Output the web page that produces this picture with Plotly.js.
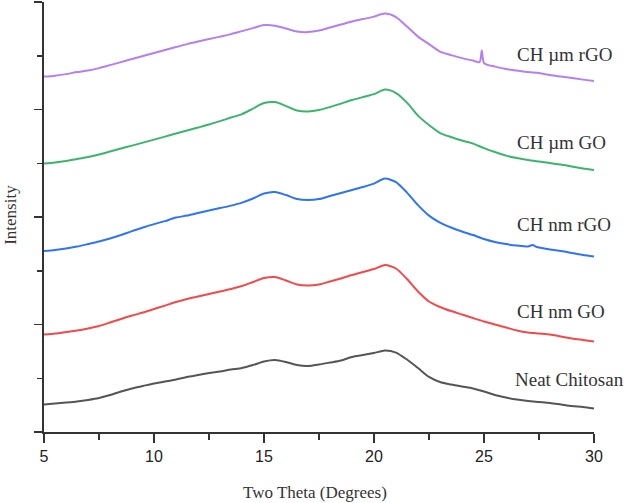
<!DOCTYPE html>
<html>
<head>
<meta charset="utf-8">
<script src="https://cdn.plot.ly/plotly-3.0.1.min.js"></script>
<style>
  html, body { margin: 0; padding: 0; background: #ffffff; }
  #chart { width: 625px; height: 503px; }
</style>
</head>
<body>
<div id="chart"></div>
<script>
// XRD patterns of chitosan films, offset vertically (arbitrary intensity units)
const twoTheta = [5.0, 5.5, 6.0, 6.5, 7.0, 7.5, 8.0, 8.5, 9.0, 9.5,
  10.0, 10.5, 11.0, 11.5, 12.0, 12.5, 13.0, 13.5, 14.0, 14.5,
  15.0, 15.5, 16.0, 16.5, 17.0, 17.5, 18.0, 18.5, 19.0, 19.5,
  20.0, 20.5, 21.0, 21.5, 22.0, 22.5, 23.0, 23.5, 24.0, 24.5,
  25.0, 25.5, 26.0, 26.5, 27.0, 27.5, 28.0, 28.5, 29.0, 29.5, 30.0];

const neatChitosan = [256, 265, 274, 284, 298, 316, 344, 377, 405, 428,
  451, 470, 488, 512, 530, 549, 563, 581, 595, 623,
  656, 670, 651, 623, 614, 628, 646, 665, 698, 716,
  735, 758, 739, 674, 595, 512, 465, 442, 423, 405,
  377, 344, 321, 302, 288, 279, 270, 256, 242, 233, 219];

const chNmGO = [907, 916, 930, 944, 963, 986, 1018, 1051, 1083, 1111,
  1144, 1176, 1209, 1237, 1260, 1283, 1307, 1330, 1358, 1395,
  1432, 1442, 1409, 1372, 1362, 1372, 1400, 1428, 1460, 1488,
  1516, 1553, 1521, 1423, 1307, 1214, 1163, 1125, 1093, 1060,
  1028, 1000, 972, 944, 925, 916, 907, 888, 870, 856, 842];

// nm rGO has a small reflection near 27.2 degrees
const twoThetaNmRGO = [5.0, 5.5, 6.0, 6.5, 7.0, 7.5, 8.0, 8.5, 9.0, 9.5,
  10.0, 10.5, 11.0, 11.5, 12.0, 12.5, 13.0, 13.5, 14.0, 14.5,
  15.0, 15.5, 16.0, 16.5, 17.0, 17.5, 18.0, 18.5, 19.0, 19.5,
  20.0, 20.5, 21.0, 21.5, 22.0, 22.5, 23.0, 23.5, 24.0, 24.5,
  25.0, 25.5, 26.0, 26.5, 27.0, 27.2, 27.4, 27.5, 28.0, 28.5, 29.0, 29.5, 30.0];
const chNmRGO = [1683, 1693, 1707, 1725, 1748, 1772, 1800, 1832, 1869, 1902,
  1934, 1962, 1995, 2013, 2037, 2060, 2083, 2106, 2134, 2172,
  2218, 2232, 2204, 2167, 2158, 2167, 2195, 2223, 2251, 2279,
  2311, 2358, 2325, 2227, 2111, 2013, 1948, 1902, 1865, 1832,
  1795, 1767, 1748, 1734, 1725, 1739, 1721, 1716, 1697, 1683, 1665, 1646, 1632];

const chUmGO = [2497, 2506, 2520, 2539, 2558, 2581, 2609, 2637, 2664, 2692,
  2720, 2748, 2776, 2804, 2832, 2860, 2892, 2925, 2957, 3009,
  3060, 3069, 3032, 2990, 2981, 2995, 3023, 3055, 3088, 3116,
  3143, 3185, 3153, 3064, 2943, 2855, 2781, 2744, 2711, 2683,
  2641, 2604, 2571, 2548, 2530, 2516, 2502, 2488, 2469, 2451, 2437];

// µm rGO shows a sharp graphitic reflection near 24.9 degrees
const twoThetaUmRGO = [5.0, 5.5, 6.0, 6.5, 7.0, 7.5, 8.0, 8.5, 9.0, 9.5,
  10.0, 10.5, 11.0, 11.5, 12.0, 12.5, 13.0, 13.5, 14.0, 14.5,
  15.0, 15.5, 16.0, 16.5, 17.0, 17.5, 18.0, 18.5, 19.0, 19.5,
  20.0, 20.5, 21.0, 21.5, 22.0, 22.5, 23.0, 23.5, 24.0, 24.5,
  24.8, 24.9, 25.0, 25.5, 26.0, 26.5, 27.0, 27.5, 28.0, 28.5, 29.0, 29.5, 30.0];
const chUmRGO = [3306, 3315, 3329, 3348, 3362, 3385, 3413, 3441, 3469, 3497,
  3525, 3553, 3581, 3608, 3632, 3655, 3678, 3701, 3729, 3757,
  3785, 3780, 3753, 3725, 3720, 3734, 3762, 3790, 3818, 3841,
  3864, 3892, 3860, 3771, 3678, 3608, 3539, 3506, 3478, 3455,
  3441, 3548, 3432, 3399, 3376, 3362, 3348, 3339, 3320, 3306, 3292, 3278, 3264];

const seriesNames = ["Neat Chitosan", "CH nm GO", "CH nm rGO", "CH \u00b5m GO", "CH \u00b5m rGO"];
const seriesColors = ["#555555", "#f24a4a", "#2f74f0", "#3cb46e", "#b47ff0"];
const seriesX = [twoTheta, twoTheta, twoThetaNmRGO, twoTheta, twoThetaUmRGO];
const seriesY = [neatChitosan, chNmGO, chNmRGO, chUmGO, chUmRGO];
// label anchors (two theta, intensity) beside each curve's tail
const labelX = [26.3, 26.4, 26.4, 26.4, 26.4];
const labelY = [490, 1120, 1930, 2690, 3510];

const traces = seriesNames.map((name, i) => ({
  type: "scatter",
  mode: "lines",
  name: name,
  x: seriesX[i],
  y: seriesY[i],
  line: { color: seriesColors[i], width: 2, shape: "spline", smoothing: 0.7 },
  hoverinfo: "x+y+name"
}));

const annotations = seriesNames.map((name, i) => ({
  xref: "x", yref: "y",
  x: labelX[i],
  y: labelY[i],
  text: name,
  showarrow: false,
  xanchor: "left",
  yanchor: "middle",
  font: { family: "Liberation Serif, Times New Roman, serif", size: 19, color: "#333333" }
}));

annotations.push({
  xref: "paper", yref: "paper",
  x: 0.493, y: -0.14,
  text: "Two Theta (Degrees)",
  showarrow: false,
  xanchor: "center", yanchor: "middle",
  font: { family: "Liberation Serif, Times New Roman, serif", size: 17, color: "#333333" }
});
annotations.push({
  xref: "paper", yref: "paper",
  x: -0.06, y: 0.505,
  text: "Intensity",
  textangle: -90,
  showarrow: false,
  xanchor: "center", yanchor: "middle",
  font: { family: "Liberation Serif, Times New Roman, serif", size: 17, color: "#333333" }
});

const layout = {
  width: 625,
  height: 503,
  margin: { l: 44, r: 31, t: 2, b: 71, pad: 0 },
  paper_bgcolor: "#ffffff",
  plot_bgcolor: "#ffffff",
  showlegend: false,
  xaxis: {
    range: [5, 30],
    tick0: 5,
    dtick: 5,
    ticks: "outside",
    ticklen: 9,
    tickwidth: 1.5,
    tickcolor: "#333333",
    showline: true,
    linecolor: "#333333",
    linewidth: 2,
    showgrid: false,
    zeroline: false,
    tickfont: { family: "Liberation Sans, Arial, sans-serif", size: 16, color: "#222222" },
    minor: { dtick: 2.5, ticks: "outside", ticklen: 6, tickwidth: 1.5, tickcolor: "#333333", showgrid: false }
  },
  yaxis: {
    range: [0, 4000],
    tick0: 0,
    dtick: 1000,
    ticks: "outside",
    ticklen: 8,
    tickwidth: 1.5,
    tickcolor: "#333333",
    showticklabels: false,
    showline: true,
    linecolor: "#333333",
    linewidth: 2,
    showgrid: false,
    zeroline: false,
    minor: { dtick: 500, ticks: "outside", ticklen: 5, tickwidth: 1.5, tickcolor: "#333333", showgrid: false }
  },
  annotations: annotations
};

Plotly.newPlot("chart", traces, layout, { displayModeBar: false, staticPlot: true });
</script>
</body>
</html>
